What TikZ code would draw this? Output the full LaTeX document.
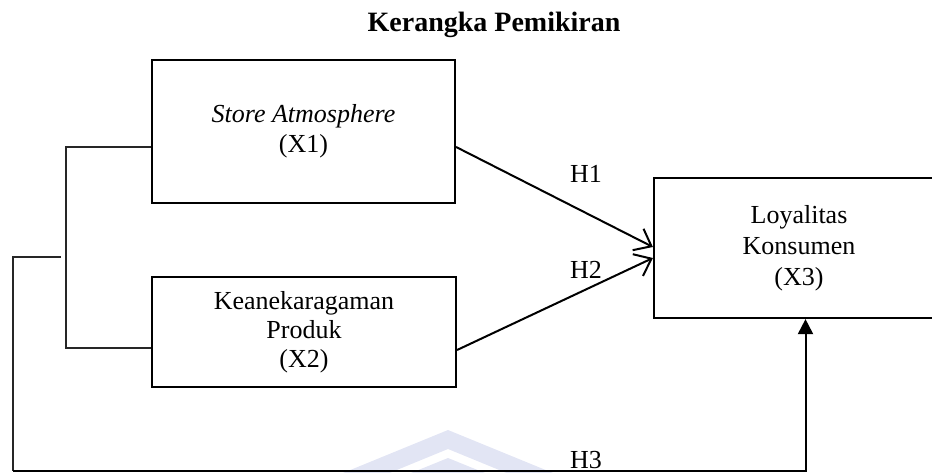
\documentclass[tikz,border=0pt]{standalone}
\usepackage{fontspec}
\setmainfont{Liberation Serif}
\usetikzlibrary{arrows.meta}
\definecolor{wmcol}{RGB}{226,229,244}
\begin{document}
\begin{tikzpicture}[x=1pt,y=-1pt,
  box/.style={draw, line width=2.2pt, align=center, font=\fontsize{26}{30}\selectfont, inner sep=0pt},
  thinline/.style={line width=1.2pt, black!85},
  arr/.style={line width=2pt, -{Straight Barb[length=15pt,width=24pt]}},
  trarr/.style={line width=2pt, -{Triangle[length=15pt,width=15pt]}},
  lbl/.style={font=\fontsize{26}{30}\selectfont, anchor=base, inner sep=0pt},
  ]
\useasboundingbox (0,0) rectangle (932,473);
% watermark
\fill[wmcol] (343,473) -- (448,430) -- (553,473) -- (506.5,473) -- (448,449) -- (389.5,473) -- cycle;
\fill[wmcol] (411,473) -- (448,458) -- (485,473) -- cycle;
% title
\node[font=\fontsize{28}{30}\selectfont\bfseries, anchor=base, inner sep=0pt] (title) at (494,32) {Kerangka Pemikiran};
% boxes
\node[box, minimum width=303pt, minimum height=143pt] (x1) at (303.5,131.5) {\textit{Store Atmosphere}\\(X1)};
\node[box, minimum width=304pt, minimum height=110pt] (x2) at (304,332) {Keanekaragaman\\[-1pt]Produk\\[-1pt](X2)};
\node[box, minimum width=290pt, minimum height=140pt] (x3) at (799,248) {Loyalitas\\[1pt]Konsumen\\[1pt](X3)};
% labels
\node[lbl] (h1) at (586,183) {H1};
\node[lbl] (h2) at (586,278) {H2};
\node[lbl] (h3) at (586,468) {H3};
% arrows
\draw[arr] ([yshift=-15.5pt]x1.east) -- ([yshift=1pt]x3.west);
\draw[arr] ([yshift=-18pt]x2.east) -- ([yshift=-10pt]x3.west);
% left bracket
\coordinate (b1) at (66,147);
\coordinate (b2) at (66,348);
\draw[thinline] ([yshift=-15.5pt]x1.west) -- (b1) -- (b2) -- ([yshift=-16pt]x2.west);
\coordinate (j) at (61,257);
\coordinate (c) at (13,257);
\coordinate (d) at (13,471);
\draw[thinline] (j) -- (c) -- (d);
\draw[trarr] (d) -| ([xshift=6.5pt]x3.south);
\end{tikzpicture}
\end{document}
